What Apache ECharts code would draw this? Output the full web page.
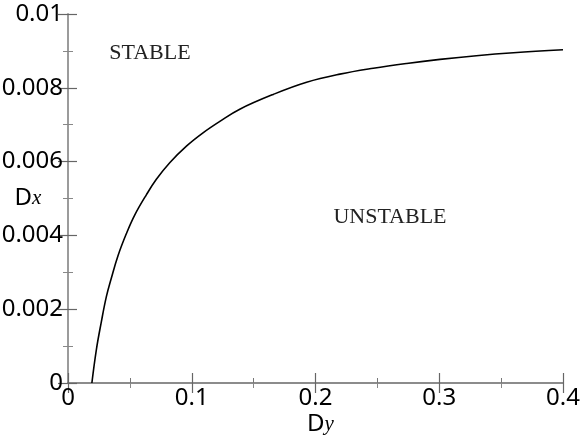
<!DOCTYPE html>
<html lang="en">
<head>
    <meta charset="utf-8"/>
    <title>Dx vs Dy stability boundary</title>
    <script src="https://cdn.jsdelivr.net/npm/echarts@6/dist/echarts.min.js"></script>
</head>
<body style="margin: 0;">
<div id="chart" style="width: 581px;height:437px;"></div>

<script type="text/javascript">
    // boundary curve: Dy on x, Dx on y
    const dy = [
        0.0193, 0.0229, 0.0269, 0.031, 0.035, 0.0404, 0.0472, 0.0539,
        0.0633, 0.0714, 0.0822, 0.0957, 0.1091, 0.1227, 0.1388, 0.1658,
        0.1928, 0.2197, 0.2467, 0.2737, 0.3006, 0.33, 0.36, 0.4
    ];
    const dx = [
        0, 0.00090, 0.00165, 0.00234, 0.00284, 0.00345, 0.00405, 0.00455,
        0.00510, 0.00552, 0.00597, 0.00642, 0.00678, 0.00709, 0.00742, 0.00782,
        0.00815, 0.00837, 0.00853, 0.00866, 0.00877, 0.00887, 0.00895, 0.00903
    ];
    const regionNames = ['STABLE', 'UNSTABLE'];

    const sans = '"Noto Sans", "Open Sans", sans-serif';
    const serif = '"Liberation Serif", "DejaVu Serif", serif';

    let chart = echarts.init(document.getElementById('chart'));

    const nameRich = {
        d: {fontFamily: sans, fontSize: 24, color: '#000'},
        s: {fontFamily: serif, fontSize: 21, fontStyle: 'italic', color: '#000'}
    };

    function mirrorAxis(pos) {
        return {
            type: 'value',
            position: pos,
            min: 0,
            max: pos === 'top' ? 0.4 : 0.01,
            interval: pos === 'top' ? 0.1 : 0.002,
            axisLine: {show: true, lineStyle: {color: '#999', width: 1.5}},
            axisTick: {show: true, inside: true, length: 10, lineStyle: {color: '#666', width: 1.2}},
            minorTick: {show: true, splitNumber: 2, length: 5, lineStyle: {color: '#888', width: 1}},
            axisLabel: {show: false},
            splitLine: {show: false}
        };
    }

    chart.setOption({
        animation: false,
        grid: {left: 68, right: 18, top: 14, bottom: 54, outerBoundsMode: 'none'},
        xAxis: [{
            type: 'value',
            min: 0,
            max: 0.4,
            interval: 0.1,
            name: '{d|D}{s|y}',
            nameLocation: 'middle',
            nameGap: 29,
            nameMoveOverlap: false,
            nameTextStyle: {rich: nameRich, padding: [0, 0, 0, 10]},
            axisLine: {lineStyle: {color: '#666', width: 2}},
            axisTick: {inside: true, length: 10, lineStyle: {color: '#666', width: 1.2}},
            minorTick: {show: true, splitNumber: 2, length: 5, lineStyle: {color: '#777', width: 1}},
            axisLabel: {fontFamily: sans, fontSize: 24, color: '#000', margin: 3},
            splitLine: {show: false}
        }, mirrorAxis('top')],
        yAxis: [{
            type: 'value',
            min: 0,
            max: 0.01,
            interval: 0.002,
            name: '{d|D}{s|x}',
            nameLocation: 'middle',
            nameRotate: 0,
            nameGap: 40,
            nameMoveOverlap: false,
            nameTextStyle: {align: 'center', verticalAlign: 'middle', rich: nameRich},
            axisLine: {lineStyle: {color: '#888', width: 1.5}},
            axisTick: {inside: true, length: 9, lineStyle: {color: '#666', width: 1.2}},
            minorTick: {show: true, splitNumber: 2, length: 5, lineStyle: {color: '#888', width: 1}},
            axisLabel: {fontFamily: sans, fontSize: 24, color: '#000', margin: 5,
                verticalAlign: 'middle', padding: [4, 0, 0, 0]},
            splitLine: {show: false}
        }, mirrorAxis('right')],
        graphic: [
            {
                type: 'text', x: 150, y: 53,
                style: {text: regionNames[0], align: 'center', verticalAlign: 'middle',
                    fontFamily: serif, fontSize: 22, fill: '#222'}
            },
            {
                type: 'text', x: 390, y: 217,
                style: {text: regionNames[1], align: 'center', verticalAlign: 'middle',
                    fontFamily: serif, fontSize: 22, fill: '#222'}
            }
        ],
        series: [{
            type: 'line',
            data: dy.map(function (v, i) {
                return [v, dx[i]];
            }),
            smooth: 0.4,
            showSymbol: false,
            lineStyle: {color: '#000', width: 1.6}
        }]
    });
</script>
</body>
</html>
